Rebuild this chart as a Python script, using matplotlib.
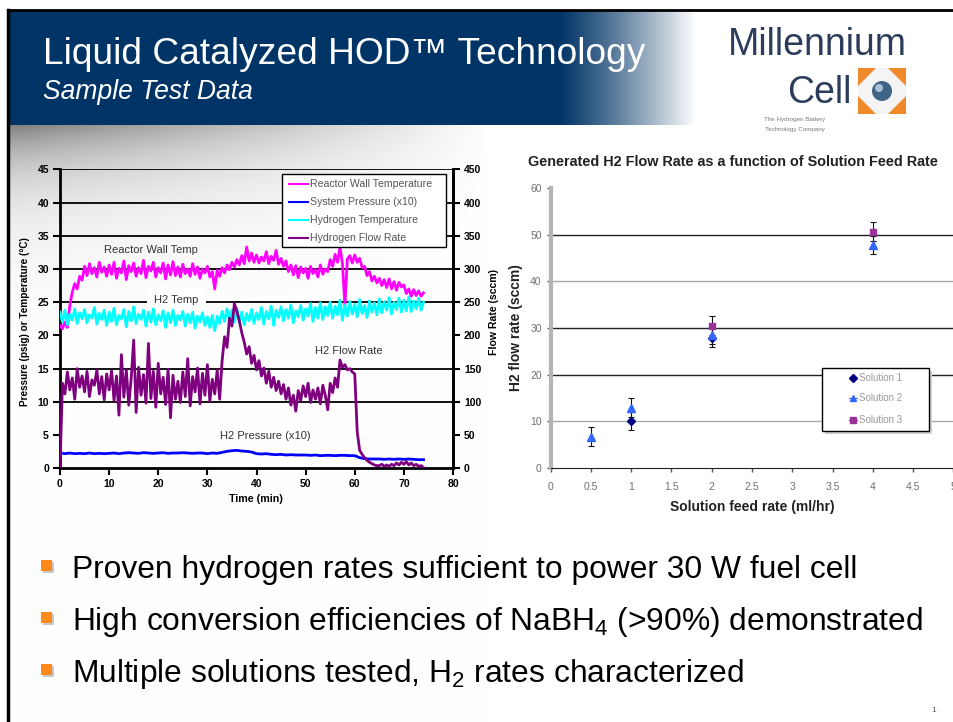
import numpy as np
import matplotlib
matplotlib.use('Agg')
import matplotlib.pyplot as plt
from matplotlib.patches import Rectangle, Polygon, Circle

plt.rcParams['font.family'] = ['Liberation Sans', 'DejaVu Sans']
plt.rcParams['mathtext.fontset'] = 'custom'
plt.rcParams['mathtext.rm'] = 'Liberation Sans'
plt.rcParams['mathtext.it'] = 'Liberation Sans:italic'
plt.rcParams['mathtext.bf'] = 'Liberation Sans:bold'
plt.rcParams['mathtext.default'] = 'regular'

# ---------------- left chart: test log, one reading every half minute ----------------
time_min = np.arange(0, 74.5, 0.5)

# reactor wall temperature (C)
wall_temp = [21.5, 21.0, 22.0, 21.2, 24.5, 26.5, 27.8, 27.0, 28.9, 28.3,
             30.4, 29.0, 30.8, 29.3, 30.2, 28.8, 31.0, 29.5, 30.3, 28.9,
             30.6, 29.2, 31.0, 28.6, 30.1, 29.4, 31.2, 28.4, 30.5, 29.6,
             30.9, 28.9, 30.2, 29.3, 31.3, 28.7, 30.4, 29.7, 31.0, 28.8,
             30.2, 29.4, 30.9, 28.5, 30.6, 29.1, 31.1, 29.0, 30.3, 28.8,
             30.7, 29.3, 30.0, 28.9, 30.8, 29.2, 30.3, 28.6, 30.0, 29.4,
             30.4, 28.8, 29.6, 27.0, 29.8, 28.9, 30.2, 29.4, 30.6, 29.9,
             31.0, 30.3, 31.4, 30.6, 32.0, 30.8, 33.3, 31.2, 32.4, 31.0,
             32.1, 30.9, 31.8, 31.2, 32.6, 30.8, 31.9, 31.3, 32.8, 30.7,
             31.6, 30.4, 31.2, 29.6, 30.6, 29.1, 30.5, 28.7, 30.3, 29.4,
             30.1, 28.6, 30.4, 29.3, 29.9, 28.8, 30.6, 29.2, 30.0, 29.6,
             31.4, 30.4, 32.2, 31.0, 33.3, 30.8, 24.5, 31.5, 32.0, 30.9,
             32.1, 31.0, 31.6, 30.2, 30.4, 29.0, 29.6, 28.2, 28.9, 27.9,
             28.6, 27.5, 28.4, 27.2, 28.5, 27.0, 28.1, 26.8, 28.0, 27.3,
             27.6, 26.3, 27.0, 25.9, 26.9, 26.0, 26.7, 25.9, 26.4]

# hydrogen temperature (C)
h2_temp = [23.5, 22.0, 23.8, 21.6, 23.2, 22.3, 24.0, 21.8, 23.4, 22.5,
           23.9, 21.9, 23.1, 22.6, 24.2, 21.7, 23.3, 22.4, 23.8, 21.5,
           23.5, 22.1, 24.1, 21.6, 23.0, 22.5, 23.9, 21.3, 23.6, 22.2,
           24.3, 21.8, 23.2, 22.4, 23.8, 21.4, 23.5, 22.0, 24.0, 21.6,
           23.1, 22.2, 23.7, 21.2, 23.4, 21.9, 23.8, 21.5, 23.0, 22.3,
           23.6, 21.4, 23.2, 21.9, 23.5, 21.1, 22.9, 22.0, 23.4, 21.5,
           22.8, 21.2, 23.0, 20.7, 22.9, 21.8, 23.6, 22.1, 24.0, 22.3,
           23.8, 22.0, 24.1, 21.9, 23.5, 21.6, 23.3, 22.2, 23.9, 21.8,
           23.4, 22.4, 24.2, 21.7, 23.6, 22.5, 24.4, 21.5, 23.8, 22.7,
           24.3, 22.2, 23.9, 22.6, 24.6, 21.9, 23.7, 22.8, 24.5, 22.3,
           24.0, 22.9, 24.8, 22.1, 24.2, 22.6, 24.9, 22.4, 24.3, 23.0,
           25.0, 22.6, 24.4, 23.1, 25.3, 22.3, 24.6, 22.9, 25.1, 23.2,
           24.7, 22.8, 25.4, 23.3, 24.5, 22.7, 25.2, 23.5, 24.9, 23.1,
           25.5, 23.4, 25.1, 23.8, 25.7, 23.2, 25.0, 23.9, 25.6, 23.5,
           25.3, 23.7, 25.8, 23.6, 25.2, 24.0, 25.6, 23.8, 25.0]

# hydrogen flow rate (sccm, right axis)
flow_rate = [0, 128, 112, 145, 118, 136, 104, 150, 122, 139,
             115, 146, 108, 133, 125, 148, 112, 138, 103, 142,
             118, 147, 102, 139, 80, 171, 107, 148, 95, 136,
             193, 84, 152, 110, 141, 98, 188, 105, 146, 92,
             158, 112, 137, 96, 149, 76, 140, 104, 131, 99,
             145, 108, 165, 94, 138, 115, 151, 97, 143, 110,
             156, 101, 134, 112, 148, 104, 162, 198, 182, 226,
             214, 248, 236, 222, 204, 190, 172, 183, 158, 170,
             148, 162, 139, 151, 128, 146, 122, 137, 117, 131,
             112, 126, 104, 121, 95, 110, 86, 117, 102, 124,
             108, 128, 99, 118, 104, 121, 97, 125, 110, 88,
             128, 114, 136, 122, 163, 152, 156, 148, 150, 145,
             142, 55, 27, 21, 16, 12, 9, 7, 5, 4,
             4, 6, 3, 5, 3, 6, 4, 8, 5, 9,
             6, 10, 5, 8, 4, 6, 3, 4, 1]

# system pressure x10 (psig), one reading per minute
press_time = np.arange(0, 75, 1)
press_x10 = [2.3, 2.2, 2.3, 2.2, 2.25, 2.2, 2.3, 2.2, 2.25, 2.2,
             2.25, 2.3, 2.2, 2.3, 2.35, 2.3, 2.25, 2.35, 2.3, 2.25,
             2.3, 2.35, 2.25, 2.3, 2.3, 2.35, 2.3, 2.25, 2.3, 2.3,
             2.2, 2.3, 2.25, 2.4, 2.55, 2.65, 2.7, 2.6, 2.55, 2.45,
             2.2, 2.15, 2.2, 2.1, 2.05, 2.1, 2.0, 2.05, 2.0, 2.0,
             2.0, 1.95, 2.0, 1.9, 1.95, 1.95, 1.9, 1.95, 1.95, 1.9,
             1.9, 1.6, 1.45, 1.4, 1.4, 1.4, 1.35, 1.4, 1.35, 1.4,
             1.35, 1.4, 1.35, 1.3, 1.3]

series_names = ['Reactor Wall Temperature', 'System Pressure (x10)',
                'Hydrogen Temperature', 'Hydrogen Flow Rate']
series_colors = ['#ff00ff', '#0000ff', '#00ffff', '#7f007f']

time_ticks = [0, 10, 20, 30, 40, 50, 60, 70, 80]
left_ticks = [0, 5, 10, 15, 20, 25, 30, 35, 40, 45]
right_ticks = [0, 50, 100, 150, 200, 250, 300, 350, 400, 450]
grid_levels = [10, 15, 25, 30, 35, 40, 45]

# ---------------- right chart: flow rate vs feed rate ----------------
sol1_feed = [1, 2]
sol1_rate = [10.0, 27.9]
sol2_feed = [0.5, 1, 2, 4]
sol2_rate = [6.7, 12.9, 28.6, 47.8]
sol3_feed = [2, 4]
sol3_rate = [30.5, 50.7]
rate_err = 2.0
feed_ticks = [0, 0.5, 1, 1.5, 2, 2.5, 3, 3.5, 4, 4.5, 5]
feed_labels = ['0', '0.5', '1', '1.5', '2', '2.5', '3', '3.5', '4', '4.5', '5']
rate_ticks = [0, 10, 20, 30, 40, 50, 60]
sol_names = ['Solution 1', 'Solution 2', 'Solution 3']
sol_colors = ['#000080', '#3366ff', '#993399']
sol_markers = ['D', '^', 's']

bullets = ['Proven hydrogen rates sufficient to power 30 W fuel cell',
           'High conversion efficiencies of NaBH$_4$ (>90%) demonstrated',
           'Multiple solutions tested, H$_2$ rates characterized']

W, H = 954, 722
fig = plt.figure(figsize=(W / 100, H / 100), dpi=100)

# ---------------- slide background ----------------
bg = fig.add_axes([0, 0, 1, 1], zorder=0)
bg.set_xlim(0, W)
bg.set_ylim(H, 0)
bg.axis('off')
yy, xx = np.mgrid[0:H, 0:W]
img = np.ones((H, W, 3))
navy = np.array([0, 51, 102]) / 255.0
fade = np.clip((xx - 555) / 140.0, 0, 1) ** 1.2
banner = (yy >= 11) & (yy < 125) & (xx >= 9)
img[banner] = navy * (1 - fade[banner][:, None]) + fade[banner][:, None]
shade = (yy >= 125) & (xx >= 9)
amt = 0.62 * np.clip(1 - (xx - 9) / 480.0, 0, 1) * np.exp(-(yy - 125) / 50.0)
img[shade] = 1 - amt[shade][:, None] * 0.8
bg.imshow(img, extent=(0, W, H, 0), aspect='auto', interpolation='bilinear')
bg.plot([8, W], [10, 10], color='black', lw=2)
bg.plot([8, 8], [10, H], color='black', lw=2.5)

# ---------------- left chart ----------------
ax = fig.add_axes([60 / W, 1 - 468.3 / H, 393 / W, 299 / H], zorder=1)
ax.set_facecolor('none')
ax.set_xlim(0, 80)
ax.set_ylim(0, 45)
for g in grid_levels:
    ax.axhline(g, color='black', lw=1.3, zorder=1)
ax.plot(time_min, wall_temp, color=series_colors[0], lw=2.0, zorder=3)
ax.plot(press_time, press_x10, color=series_colors[1], lw=2.0, zorder=3)
ax.plot(time_min, h2_temp, color=series_colors[2], lw=2.0, zorder=3)
ax.text(18.6, 32.9, 'Reactor Wall Temp', ha='center', va='center', fontsize=8, color='#333333')
ax.text(23.7, 25.4, 'H2 Temp', ha='center', va='center', fontsize=8, color='#333333', zorder=2,
        bbox=dict(facecolor='white', edgecolor='none', pad=5))
ax.text(58.8, 17.7, 'H2 Flow Rate', ha='center', va='center', fontsize=8, color='#333333')
ax.text(41.8, 4.9, 'H2 Pressure (x10)', ha='center', va='center', fontsize=8, color='#333333')
ax.set_xticks(time_ticks)
ax.set_xticklabels([str(v) for v in time_ticks], fontweight='bold')
ax.set_yticks(left_ticks)
ax.set_yticklabels([str(v) for v in left_ticks], fontweight='bold')
ax.tick_params(direction='out', length=5, width=1.5, labelsize=7.5, pad=3)
for s in ['left', 'bottom', 'right']:
    ax.spines[s].set_linewidth(2)
ax.spines['top'].set_visible(False)

ax2 = ax.twinx()
ax2.set_zorder(2)
ax2.set_ylim(0, 450)
ax2.plot(time_min, flow_rate, color=series_colors[3], lw=2.0)
ax2.set_yticks(right_ticks)
ax2.set_yticklabels([str(v) for v in right_ticks], fontweight='bold')
ax2.tick_params(direction='out', length=5, width=1.5, labelsize=7.5, pad=3)
ax2.spines['right'].set_linewidth(2)
ax2.spines['top'].set_visible(False)
ax2.spines['left'].set_visible(False)
ax2.spines['bottom'].set_visible(False)

# ---------------- right chart ----------------
axr = fig.add_axes([550.7 / W, 1 - 467.7 / H, 402.6 / W, 279.4 / H], zorder=1)
axr.set_xlim(0, 5)
axr.set_ylim(0, 60)
for g in [20, 30, 50]:
    axr.axhline(g, color='#222222', lw=1, zorder=1)
for g in [10, 40]:
    axr.axhline(g, color='#a8a8a8', lw=1, zorder=1)
for fx_, fy_, c, m, ms in [(sol1_feed, sol1_rate, sol_colors[0], sol_markers[0], 4),
                           (sol2_feed, sol2_rate, sol_colors[1], sol_markers[1], 6),
                           (sol3_feed, sol3_rate, sol_colors[2], sol_markers[2], 5)]:
    axr.errorbar(fx_, fy_, yerr=rate_err, fmt=m, color=c, ms=ms, ecolor='#111111',
                 elinewidth=0.8, capsize=2.5, capthick=0.8, zorder=3)
axr.set_xticks(feed_ticks)
axr.set_xticklabels(feed_labels)
axr.set_yticks(rate_ticks)
axr.tick_params(direction='out', length=3, width=1, colors='#555555', labelcolor='#707070',
                labelsize=7.5)
axr.tick_params(axis='x', pad=7)
axr.spines['top'].set_visible(False)
axr.spines['right'].set_visible(False)
axr.spines['left'].set_color('#b5b5b5')
axr.spines['left'].set_linewidth(3)
axr.spines['bottom'].set_color('#222222')

# ---------------- overlay: titles, labels, legends ----------------
ov = fig.add_axes([0, 0, 1, 1], zorder=5)
ov.set_xlim(0, W)
ov.set_ylim(H, 0)
ov.axis('off')
ov.patch.set_visible(False)

ov.text(43, 64, 'Liquid Catalyzed HOD\u2122 Technology', fontsize=26.7, color='white', va='baseline')
ov.text(43, 99, 'Sample Test Data', fontsize=19.1, style='italic', color='white', va='baseline')

# logo
ov.text(907, 55, 'Millennium', fontsize=27, color='#2b3d5b', ha='right', va='baseline')
ov.text(852, 103, 'Cell', fontsize=27, color='#2b3d5b', ha='right', va='baseline')
ov.add_patch(Rectangle((858, 68), 48, 46, facecolor='#f4f4f4', edgecolor='none'))
for tri in [[(858, 68), (876, 68), (858, 86)], [(906, 68), (888, 68), (906, 86)],
            [(858, 114), (876, 114), (858, 96)], [(906, 114), (888, 114), (906, 96)]]:
    ov.add_patch(Polygon(tri, closed=True, facecolor='#f0892a', edgecolor='none'))
ov.add_patch(Circle((882, 91), 10, facecolor='#3e6486', edgecolor='none'))
ov.add_patch(Circle((879, 88), 4, facecolor='#a9c0d6', edgecolor='none'))
ov.text(795, 120, 'The Hydrogen Battery', fontsize=4.5, color='#777777', ha='center', va='center')
ov.text(795, 130, 'Technology Company', fontsize=4.5, color='#777777', ha='center', va='center')

# left chart axis titles
ov.text(25, 322, 'Pressure (psig) or Temperature (\u00b0C)', rotation=90, fontsize=7.2,
        fontweight='bold', ha='center', va='center')
ov.text(494, 312, 'Flow Rate (sccm)', rotation=90, fontsize=7.6, fontweight='bold',
        ha='center', va='center')
ov.text(256, 499, 'Time (min)', fontsize=7.7, fontweight='bold', ha='center', va='center')

# left legend
ov.add_patch(Rectangle((282, 174), 164, 73, facecolor='white', edgecolor='black', lw=1))
for i, (name, col) in enumerate(zip(series_names, series_colors)):
    ly = 183.7 + i * 18.2
    ov.plot([289, 308], [ly, ly], color=col, lw=1.5)
    ov.text(310, ly, name, fontsize=7.6, color='#555555', va='center')

# right chart titles
ov.text(528, 161.5, 'Generated H2 Flow Rate as a function of Solution Feed Rate', fontsize=10.4,
        fontweight='bold', ha='left', va='center', color='#222222')
ov.text(516, 328, 'H2 flow rate (sccm)', rotation=90, fontsize=10, fontweight='bold',
        ha='center', va='center', color='#222222')
ov.text(752, 507, 'Solution feed rate (ml/hr)', fontsize=10, fontweight='bold',
        ha='center', va='center', color='#222222')

# right legend
ov.add_patch(Rectangle((825, 371), 107, 63, facecolor='#d0d0d0', edgecolor='none'))
ov.add_patch(Rectangle((822, 368), 107, 63, facecolor='white', edgecolor='black', lw=1))
for i, (name, col, mk) in enumerate(zip(sol_names, sol_colors, sol_markers)):
    ly = [378.3, 398.3, 420][i]
    ov.plot([849, 857], [ly, ly], color=col, lw=0.8)
    ov.plot([853.3], [ly], marker=mk, color=col, ms=4)
    ov.text(859, ly, name, fontsize=7, color='#999999', va='center')

# bullets
for i, txt in enumerate(bullets):
    by = 567 + i * 52
    ov.add_patch(Rectangle((43, by - 5), 11, 11, facecolor='#c8c8c8', edgecolor='none'))
    ov.add_patch(Rectangle((41, by - 7), 11, 11, facecolor='#ff8a1c', edgecolor='none'))
    ov.text(72, by + 11, txt, fontsize=22.9, color='black', va='baseline')

ov.text(934, 710, '1', fontsize=6, color='#555555', ha='center', va='center')

fig.savefig('out.png', dpi=100)
